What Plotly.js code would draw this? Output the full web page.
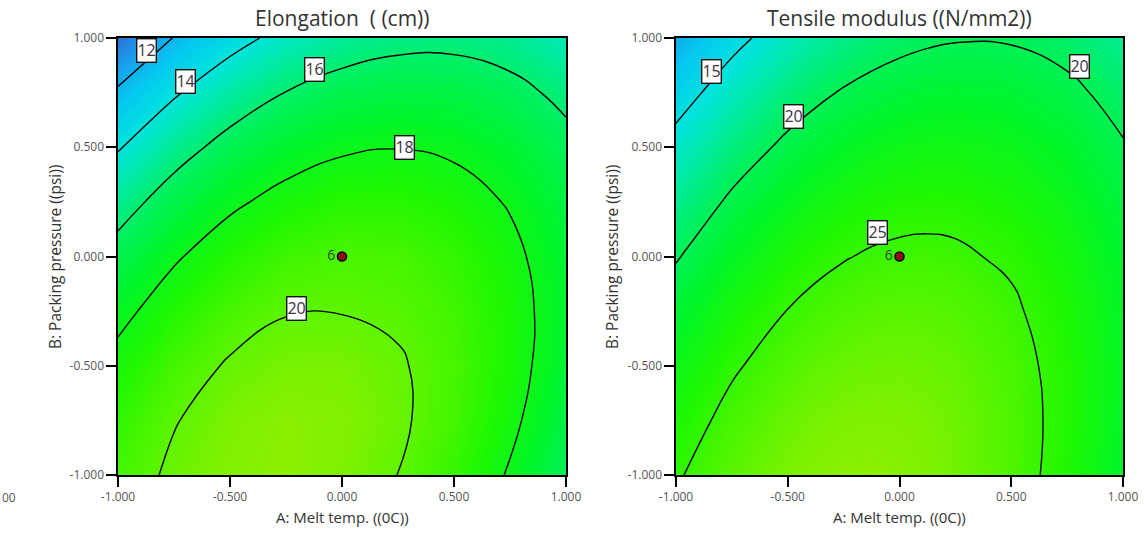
<!DOCTYPE html>
<html>
<head>
<meta charset="utf-8">
<script src="https://cdn.plot.ly/plotly-3.0.1.min.js"></script>
<style>html,body{margin:0;padding:0;background:#fff;}#chart{width:1144px;height:543px;}</style>
</head>
<body>
<div id="chart"></div>
<script>
// Coded factor levels (grid where the elongation surface was read)
const gridA = [-1, -0.75, -0.5, -0.25, 0, 0.25, 0.5, 0.75, 1];
const gridB = [-1, -0.75, -0.5, -0.25, 0, 0.25, 0.5, 0.75, 1];

// Elongation (cm), rows = B from -1 to 1, columns = A from -1 to 1
const elongation = [
  [19.42, 20.21, 20.66, 20.77, 20.55, 19.99, 19.10, 17.87, 16.30],
  [19.03, 19.94, 20.50, 20.74, 20.63, 20.19, 19.41, 18.30, 16.85],
  [18.43, 19.45, 20.12, 20.42, 20.44, 20.12, 19.50, 18.52, 17.19],
  [17.61, 18.72, 19.50, 19.95, 19.97, 19.82, 19.36, 18.53, 17.31],
  [16.58, 17.84, 18.76, 19.34, 19.59, 19.50, 19.08, 18.32, 17.22],
  [15.34, 16.71, 17.75, 18.45, 18.82, 18.85, 18.54, 17.90, 16.92],
  [13.88, 15.37, 16.53, 17.34, 17.83, 17.97, 17.79, 17.26, 16.40],
  [12.21, 13.82, 15.09, 16.03, 16.63, 16.89, 16.82, 16.41, 15.67],
  [10.32, 12.05, 13.44, 14.49, 15.21, 15.59, 15.64, 15.35, 14.72]
];

// Grid where the tensile modulus surface was read (denser near the 25 contour)
const tensileA = [-1, -0.75, -0.5, -0.375, -0.25, -0.125, 0, 0.125, 0.25, 0.5, 0.75, 1];
const tensileB = [-1, -0.75, -0.5, -0.25, -0.125, 0, 0.125, 0.25, 0.5, 0.75, 1];

// Tensile modulus (N/mm2), rows = tensileB, columns = tensileA
const tensile = [
  [24.76, 26.44, 27.53, 27.85, 28.02, 28.05, 27.93, 27.66, 27.24, 25.97, 24.10, 21.64],
  [23.85, 25.68, 26.92, 27.32, 27.57, 27.67, 27.63, 27.44, 27.10, 25.97, 24.26, 21.95],
  [22.72, 24.71, 26.10, 26.57, 26.90, 27.08, 27.11, 26.99, 26.73, 25.76, 24.20, 22.04],
  [21.37, 23.51, 25.05, 25.60, 26.00, 26.26, 26.37, 26.32, 26.14, 25.32, 23.91, 21.91],
  [20.61, 22.82, 24.44, 25.03, 25.47, 25.76, 25.91, 25.91, 25.76, 25.02, 23.68, 21.76],
  [19.80, 22.08, 23.78, 24.41, 24.88, 25.22, 25.40, 25.44, 25.32, 24.66, 23.40, 21.55],
  [18.93, 21.29, 23.06, 23.73, 24.24, 24.61, 24.83, 24.91, 24.83, 24.24, 23.06, 21.29],
  [18.00, 20.44, 22.29, 22.99, 23.55, 23.95, 24.21, 24.33, 24.29, 23.78, 22.67, 20.98],
  [15.98, 18.57, 20.57, 21.35, 21.98, 22.47, 22.80, 22.99, 23.03, 22.67, 21.72, 20.18],
  [13.74, 16.48, 18.64, 19.49, 20.20, 20.76, 21.17, 21.44, 21.55, 21.35, 20.55, 19.16],
  [11.28, 14.17, 16.48, 17.41, 18.20, 18.83, 19.32, 19.66, 19.85, 19.80, 19.15, 17.91]
];

// Contour levels
const elongLevels = {start: 12, end: 20, size: 2};
const tensileLevels = {start: 15, end: 25, size: 5};

// Contour label placements and texts
const elongLabelA = [-0.873, -0.697, -0.122, 0.278, -0.202];
const elongLabelB = [0.945, 0.803, 0.854, 0.501, -0.236];
const elongLabelText = ['12', '14', '16', '18', '20'];
const tensileLabelA = [-0.839, -0.475, 0.805, -0.097];
const tensileLabelB = [0.847, 0.641, 0.870, 0.108];
const tensileLabelText = ['15', '20', '20', '25'];

// Design center point (6 replicates)
const centerA = [0];
const centerB = [0];
const centerText = ['6'];

// Axis ticks
const tickVals = [-1, -0.5, 0, 0.5, 1];
const tickText = ['-1.000', '-0.500', '0.000', '0.500', '1.000'];

const titles = ['Elongation\u00a0\u00a0( (cm))', 'Tensile modulus ((N/mm2))'];
const xTitle = 'A: Melt temp. ((0C))';
const yTitle = 'B: Packing pressure ((psi))';

const cscale = [
  [0.00, 'rgb(45,112,212)'],
  [0.10, 'rgb(25,158,235)'],
  [0.22, 'rgb(5,200,240)'],
  [0.35, 'rgb(0,228,220)'],
  [0.45, 'rgb(0,235,165)'],
  [0.56, 'rgb(0,240,95)'],
  [0.68, 'rgb(0,246,40)'],
  [0.80, 'rgb(32,248,0)'],
  [0.90, 'rgb(82,245,0)'],
  [1.00, 'rgb(140,240,0)']
];

const FONT = 'Open Sans, Noto Sans, sans-serif';

function contourTrace(xs, ys, z, levels, xa, ya, zmin, zmax) {
  return {
    type: 'contour', x: xs, y: ys, z: z,
    xaxis: xa, yaxis: ya,
    colorscale: cscale, zmin: zmin, zmax: zmax, zauto: false,
    showscale: false,
    contours: {coloring: 'heatmap', start: levels.start, end: levels.end, size: levels.size, showlabels: false},
    line: {color: '#000', width: 1.4, smoothing: 1.3},
    hoverinfo: 'skip'
  };
}
function centerTrace(xa, ya) {
  return {
    type: 'scatter', mode: 'markers+text', x: centerA, y: centerB, text: centerText,
    textposition: 'middle left', textfont: {family: FONT, size: 14, color: '#2d4a1e'},
    marker: {size: 9, color: '#8a1212', line: {color: '#1a0000', width: 1.5}},
    xaxis: xa, yaxis: ya, hoverinfo: 'skip', showlegend: false, cliponaxis: false
  };
}

const data = [
  contourTrace(gridA, gridB, elongation, elongLevels, 'x', 'y', 10.3, 20.8),
  contourTrace(tensileA, tensileB, tensile, tensileLevels, 'x2', 'y2', 8.5, 28.1),
  centerTrace('x', 'y'),
  centerTrace('x2', 'y2')
];

function axis(domain, anchor) {
  return {
    domain: domain, anchor: anchor, range: [-1, 1],
    tickmode: 'array', tickvals: tickVals, ticktext: tickText,
    ticks: 'outside', ticklen: 10, tickwidth: 2, tickcolor: '#000',
    showline: true, mirror: true, linecolor: '#000', linewidth: 1.6,
    showgrid: false, zeroline: false,
    tickfont: {family: FONT, size: 12, color: '#555'}
  };
}

const yDom = [68 / 543, 505 / 543];
const layout = {
  width: 1144, height: 543,
  margin: {l: 0, r: 0, t: 0, b: 0},
  paper_bgcolor: '#fff', plot_bgcolor: '#fff',
  showlegend: false,
  xaxis: axis([118 / 1144, 566 / 1144], 'y'),
  yaxis: axis(yDom, 'x'),
  xaxis2: axis([676 / 1144, 1123 / 1144], 'y2'),
  yaxis2: axis(yDom, 'x2'),
  annotations: []
};

function addLabels(A, B, T, xr, yr) {
  for (let i = 0; i < T.length; i++) {
    layout.annotations.push({
      x: A[i], y: B[i], xref: xr, yref: yr, text: T[i], showarrow: false,
      font: {family: FONT, size: 16, color: '#3a3040'},
      bgcolor: '#fff', bordercolor: '#111', borderwidth: 1.4, borderpad: 0
    });
  }
}
addLabels(elongLabelA, elongLabelB, elongLabelText, 'x', 'y');
addLabels(tensileLabelA, tensileLabelB, tensileLabelText, 'x2', 'y2');

function paperText(text, x, y, size, angle, color) {
  layout.annotations.push({
    text: text, x: x, y: y, xref: 'paper', yref: 'paper', showarrow: false,
    xanchor: 'center', yanchor: 'middle', textangle: angle || 0,
    font: {family: FONT, size: size, color: color || '#333'}
  });
}
paperText(titles[0], 342 / 1144, 1 - 18 / 543, 21);
paperText(titles[1], 899 / 1144, 1 - 18 / 543, 21);
paperText(xTitle, 342 / 1144, 1 - 517 / 543, 15);
paperText(xTitle, 899 / 1144, 1 - 517 / 543, 15);
paperText(yTitle, 55 / 1144, 1 - 257 / 543, 15.5, -90);
paperText(yTitle, 612 / 1144, 1 - 257 / 543, 15.5, -90);
paperText('00', 9 / 1144, 1 - 497 / 543, 12, 0, '#555');

Plotly.newPlot('chart', data, layout, {staticPlot: true, displayModeBar: false});
</script>
</body>
</html>
